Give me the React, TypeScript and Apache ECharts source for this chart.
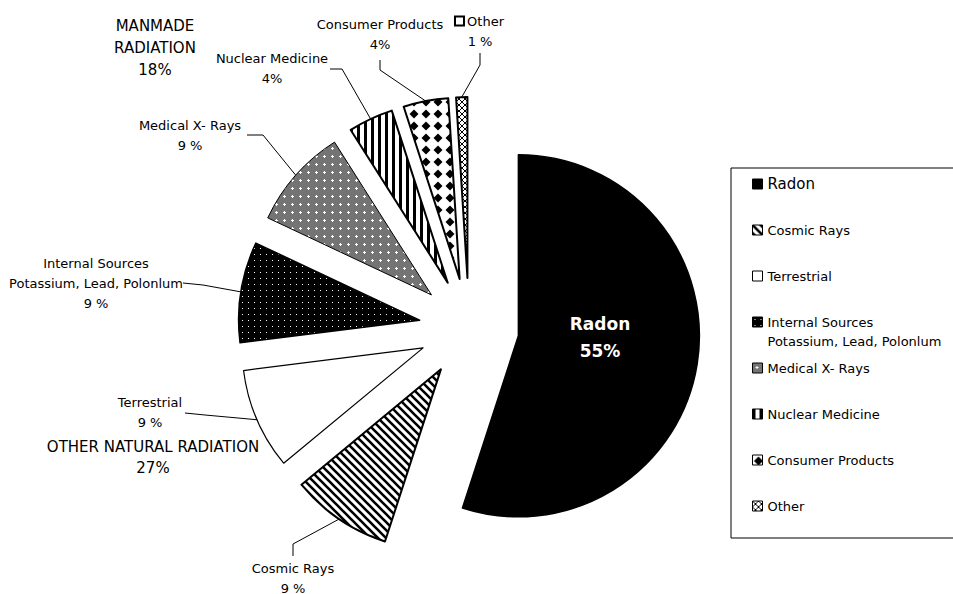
import React, { useEffect, useRef } from "react";
import * as echarts from "echarts";

// ---------- data ----------
const categories = [
  "Radon",
  "Cosmic Rays",
  "Terrestrial",
  "Internal Sources\nPotassium, Lead, Polonlum",
  "Medical X- Rays",
  "Nuclear Medicine",
  "Consumer Products",
  "Other",
];
const values = [55, 9, 9, 9, 9, 4, 4, 1];
const percentLabels = ["55%", "9 %", "9 %", "9 %", "9 %", "4%", "4%", "1 %"];
const groupTexts = ["MANMADE\nRADIATION\n18%", "OTHER NATURAL RADIATION\n27%"];

// ---------- layout ----------
const FONT = "DejaVu Sans";
const CX = 469;
const CY = 328;
const R = 181;
const OFF = 50;

// label block centres and leader bends (index -> centre, bend, end)
const labelPlace: { [k: number]: { x: number; y: number; bend?: number[]; end?: number[] } } = {
  0: { x: 600, y: 337 },
  1: { x: 293, y: 578, bend: [293, 544], end: [293, 556] },
  2: { x: 150, y: 412, bend: [205, 415], end: [185, 413] },
  3: { x: 96, y: 283, bend: [203, 285], end: [183, 283] },
  4: { x: 190, y: 135, bend: [263, 135], end: [247, 135] },
  5: { x: 272, y: 68, bend: [342, 69], end: [330, 69] },
  6: { x: 380, y: 34, bend: [380, 70], end: [380, 60] },
  7: { x: 480, y: 31, bend: [480, 65], end: [480, 53] },
};
const legendCenters = [184, 230, 276, 322, 368, 414, 460, 506];
const borderWidths = [1.5, 2, 1.2, 1.5, 1, 2, 2, 2];

function tile(w: number, h: number, draw: (c: CanvasRenderingContext2D) => void) {
  const cv = document.createElement("canvas");
  cv.width = w;
  cv.height = h;
  const c = cv.getContext("2d")!;
  draw(c);
  return cv;
}

function makeFills(): any[] {
  const cosmic = tile(8, 8, (c) => {
    c.fillStyle = "#fff";
    c.fillRect(0, 0, 8, 8);
    c.strokeStyle = "#000";
    c.lineWidth = 2.6;
    c.beginPath();
    for (let k = -1; k <= 1; k++) {
      c.moveTo(-2, -2 + 8 * k);
      c.lineTo(10, 10 + 8 * k);
    }
    c.stroke();
  });
  const internal = tile(6, 6, (c) => {
    c.fillStyle = "#000";
    c.fillRect(0, 0, 6, 6);
    c.fillStyle = "#fff";
    c.fillRect(2, 2, 1, 1);
  });
  const medical = tile(8, 8, (c) => {
    c.fillStyle = "#747474";
    c.fillRect(0, 0, 8, 8);
    c.fillStyle = "#fff";
    c.fillRect(3, 4, 3, 1);
    c.fillRect(4, 3, 1, 3);
  });
  const nuclear = tile(7, 4, (c) => {
    c.fillStyle = "#fff";
    c.fillRect(0, 0, 7, 4);
    c.fillStyle = "#000";
    c.fillRect(0, 0, 3, 4);
  });
  const consumer = tile(12, 12, (c) => {
    c.fillStyle = "#fff";
    c.fillRect(0, 0, 12, 12);
    c.fillStyle = "#000";
    c.beginPath();
    c.moveTo(6, 1.5);
    c.lineTo(10.5, 6);
    c.lineTo(6, 10.5);
    c.lineTo(1.5, 6);
    c.closePath();
    c.fill();
  });
  const other = tile(6, 6, (c) => {
    c.fillStyle = "#fff";
    c.fillRect(0, 0, 6, 6);
    c.strokeStyle = "#000";
    c.lineWidth = 1;
    c.beginPath();
    c.moveTo(0, 0);
    c.lineTo(6, 6);
    c.moveTo(6, 0);
    c.lineTo(0, 6);
    c.stroke();
  });
  const pat = (cv: HTMLCanvasElement) => ({ image: cv, repeat: "repeat" });
  return ["#000", pat(cosmic), "#fff", pat(internal), pat(medical), pat(nuclear), pat(consumer), pat(other)];
}

export default function App() {
  const ref = useRef<HTMLDivElement>(null);
  useEffect(() => {
    document.body.style.margin = "0";
    const chart = echarts.init(ref.current!, null, { renderer: "svg" });
    const fills = makeFills();
    const total = values.reduce((a, b) => a + b, 0);
    const dirs: number[][] = [];
    let acc = 0;
    values.forEach((v) => {
      const mid = ((acc + v / 2) / total) * Math.PI * 2;
      dirs.push([Math.sin(mid), -Math.cos(mid)]);
      acc += v;
    });

    const hidden = (name: string, value: number) => ({
      name,
      value,
      itemStyle: { color: "rgba(0,0,0,0)", borderWidth: 0 },
      label: { show: false },
      labelLine: { show: false },
    });

    let before = 0;
    const series = categories.map((name, i) => {
      const after = total - before - values[i];
      const item: any = {
        name,
        value: values[i],
        itemStyle: { color: fills[i], borderColor: "#000", borderWidth: borderWidths[i] },
        label:
          i === 0
            ? { position: "inside", color: "#fff", fontWeight: "bold", fontSize: 17, lineHeight: 27 }
            : {},
        labelLine: { show: i !== 0 },
      };
      const s = {
        type: "pie",
        id: "slice" + i,
        center: [CX + OFF * dirs[i][0], CY + OFF * dirs[i][1]],
        radius: R,
        startAngle: 90,
        clockwise: true,
        silent: true,
        avoidLabelOverlap: false,
        emphasis: { disabled: true },
        label: {
          show: true,
          position: "outside",
          fontFamily: FONT,
          fontSize: 13,
          lineHeight: 20,
          color: "#000",
          align: "center",
          formatter: (p: any) =>
            i === 7
              ? "{box|} " + p.name + "\n" + percentLabels[i]
              : p.name + "\n" + percentLabels[i],
          rich: {
            box: { width: 7, height: 7, borderColor: "#000", borderWidth: 2, backgroundColor: "#fff" },
          },
        },
        labelLine: { show: true, lineStyle: { color: "#000", width: 1 } },
        labelLayout: (p: any) => {
          if (p.dataIndex !== 1) return {};
          const lp = labelPlace[i];
          const res: any = { x: lp.x, y: lp.y, align: "center", verticalAlign: "middle" };
          if (lp.bend && lp.end) {
            const st = [CX + (R + OFF) * dirs[i][0], CY + (R + OFF) * dirs[i][1]];
            res.labelLinePoints = [st, lp.bend, lp.end];
          }
          return res;
        },
        data: [hidden("before" + i, before), item, hidden("after" + i, after)],
      };
      before += values[i];
      return s;
    });

    const legends = categories.map((name, i) => {
      const lh = i === 0 ? 18 : i === 3 ? 19 : 16;
      const lines = i === 3 ? 3 : 1;
      return {
        data: [name],
        orient: "vertical",
        left: 752,
        top: legendCenters[i] - (lh * lines) / 2,
        padding: 0,
        itemWidth: 10,
        itemHeight: 10,
        icon: "rect",
        selectedMode: false,
        formatter: i === 3 ? (n: string) => "\n" + n : undefined,
        itemStyle: { borderColor: "#000", borderWidth: 1 },
        textStyle: { fontFamily: FONT, fontSize: i === 0 ? 15 : 13, lineHeight: lh, color: "#000", padding: 0 },
      };
    });

    chart.setOption({
      animation: false,
      backgroundColor: "#fff",
      legend: legends,
      graphic: [
        {
          type: "rect",
          shape: { x: 731, y: 168, width: 240, height: 370 },
          style: { fill: "none", stroke: "#000", lineWidth: 1 },
          z: 0,
        },
        {
          type: "text",
          style: {
            text: groupTexts[0],
            x: 155,
            y: 48,
            fill: "#000",
            fontFamily: FONT,
            fontSize: 15,
            lineHeight: 22,
            align: "center",
            verticalAlign: "middle",
          },
        },
        {
          type: "text",
          style: {
            text: groupTexts[1],
            x: 153,
            y: 457,
            fill: "#000",
            fontFamily: FONT,
            fontSize: 15,
            lineHeight: 21,
            align: "center",
            verticalAlign: "middle",
          },
        },
      ],
      series,
    });
    return () => chart.dispose();
  }, []);
  return <div ref={ref} style={{ position: "fixed", left: 0, top: 0, width: 953, height: 594 }} />;
}
